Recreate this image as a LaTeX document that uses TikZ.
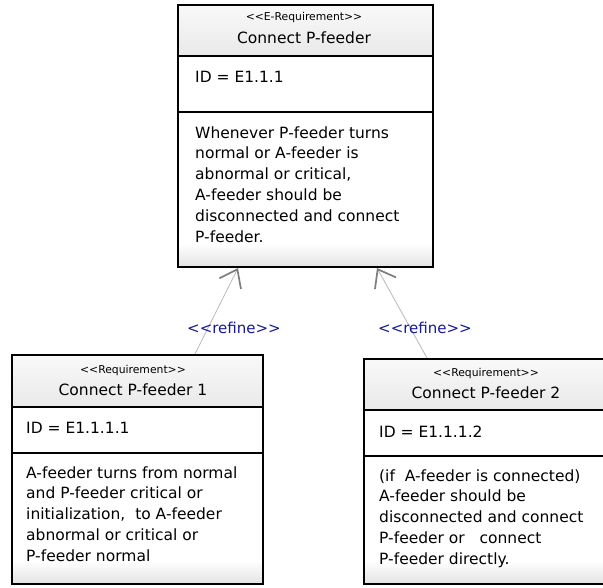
\documentclass[tikz,border=0pt]{standalone}
\usepackage{fontspec}
\setmainfont{DejaVu Sans}
\usetikzlibrary{arrows.meta}
\definecolor{refblue}{RGB}{25,25,150}
\definecolor{hdtop}{RGB}{249,249,249}
\definecolor{hdbot}{RGB}{233,233,233}
\definecolor{bdbot}{RGB}{228,228,228}
\definecolor{linegray}{RGB}{185,185,185}
\definecolor{tipgray}{RGB}{125,125,125}
\newcommand\lsq{{<}{<}}
\newcommand\rsq{{>}{>}}
\begin{document}
\begin{tikzpicture}[x=1pt,y=1pt,
  boxframe/.style={draw=black, line width=1.6pt, inner sep=0pt, anchor=north west},
  sepline/.style={draw=black, line width=1.1pt},
  stereo/.style={font=\fontsize{10.8}{12}\selectfont, anchor=base, inner sep=0pt},
  titletext/.style={font=\fontsize{15.5}{19}\selectfont, anchor=base, inner sep=0pt},
  bodytext/.style={font=\fontsize{15.5}{19}\selectfont, anchor=base west, inner sep=0pt},
  refinelbl/.style={font=\fontsize{15}{17}\selectfont, text=refblue, anchor=base, inner sep=0pt},
  conn/.style={draw=linegray, line width=0.8pt,
    -{Straight Barb[length=16pt,width=24pt,line width=1.7pt,color=tipgray]}}
]
\clip (0,0) rectangle (603,-587);
\fill[white] (0,0) rectangle (603,-587);

% ---------- top box: E-Requirement ----------
\shade[top color=hdtop, bottom color=hdbot] (177,-4) rectangle (432,-56);
\fill[white] (177,-56) rectangle (432,-244);
\shade[top color=white, bottom color=bdbot] (177,-244) rectangle (432,-266);
\draw[sepline] (177,-56) -- (432,-56);
\draw[sepline] (177,-112) -- (432,-112);
\node[boxframe, minimum width=255pt, minimum height=262pt] (ereq) at (177,-4) {};
\node[stereo] (ereq-st) at (304,-20) {\lsq E-Requirement\rsq};
\node[titletext] (ereq-ti) at (304,-43) {Connect P-feeder};
\node[bodytext] (ereq-id) at (195,-82) {ID = E1.1.1};
\foreach \t [count=\i from 0] in {{Whenever P-feeder turns},{normal or A-feeder is},{abnormal or critical,},{A-feeder should be},{disconnected and connect},{P-feeder.}}
  \node[bodytext] (ereq-b\i) at (195,-138-20.8*\i) {\t};

% ---------- left box ----------
\shade[top color=hdtop, bottom color=hdbot] (11,-354) rectangle (262,-407);
\fill[white] (11,-407) rectangle (262,-561);
\shade[top color=white, bottom color=bdbot] (11,-561) rectangle (262,-583);
\draw[sepline] (11,-407) -- (262,-407);
\draw[sepline] (11,-453) -- (262,-453);
\node[boxframe, minimum width=251pt, minimum height=229pt] (req1) at (11,-354) {};
\node[stereo] (req1-st) at (133,-373) {\lsq Requirement\rsq};
\node[titletext] (req1-ti) at (133,-395) {Connect P-feeder 1};
\node[bodytext] (req1-id) at (26,-433) {ID = E1.1.1.1};
\foreach \t [count=\i from 0] in {{A-feeder turns from normal},{and P-feeder critical or},{initialization,\ \ to A-feeder},{abnormal or critical or},{P-feeder normal}}
  \node[bodytext] (req1-b\i) at (26,-478-20.75*\i) {\t};

% ---------- right box ----------
\shade[top color=hdtop, bottom color=hdbot] (363,-358) rectangle (609,-410);
\fill[white] (363,-410) rectangle (609,-561);
\shade[top color=white, bottom color=bdbot] (363,-561) rectangle (609,-583);
\draw[sepline] (363,-410) -- (609,-410);
\draw[sepline] (363,-456) -- (609,-456);
\node[boxframe, minimum width=246pt, minimum height=225pt] (req2) at (363,-358) {};
\node[stereo] (req2-st) at (486,-376) {\lsq Requirement\rsq};
\node[titletext] (req2-ti) at (486,-398) {Connect P-feeder 2};
\node[bodytext] (req2-id) at (379,-437) {ID = E1.1.1.2};
\foreach \t [count=\i from 0] in {{(if\ \ A-feeder is connected)},{A-feeder should be},{disconnected and connect},{P-feeder or\ \ \ connect},{P-feeder directly.}}
  \node[bodytext] (req2-b\i) at (379,-481-20.75*\i) {\t};

% ---------- connectors ----------
\coordinate (l-src) at (195,-354);
\coordinate (l-dst) at (238,-268);
\coordinate (r-src) at (427,-358);
\coordinate (r-dst) at (377,-268);
\draw[conn] (l-src) -- (l-dst);
\draw[conn] (r-src) -- (r-dst);
\node[refinelbl] (l-lbl) at (234,-333) {\lsq refine\rsq};
\node[refinelbl] (r-lbl) at (425,-333) {\lsq refine\rsq};
\end{tikzpicture}
\end{document}
